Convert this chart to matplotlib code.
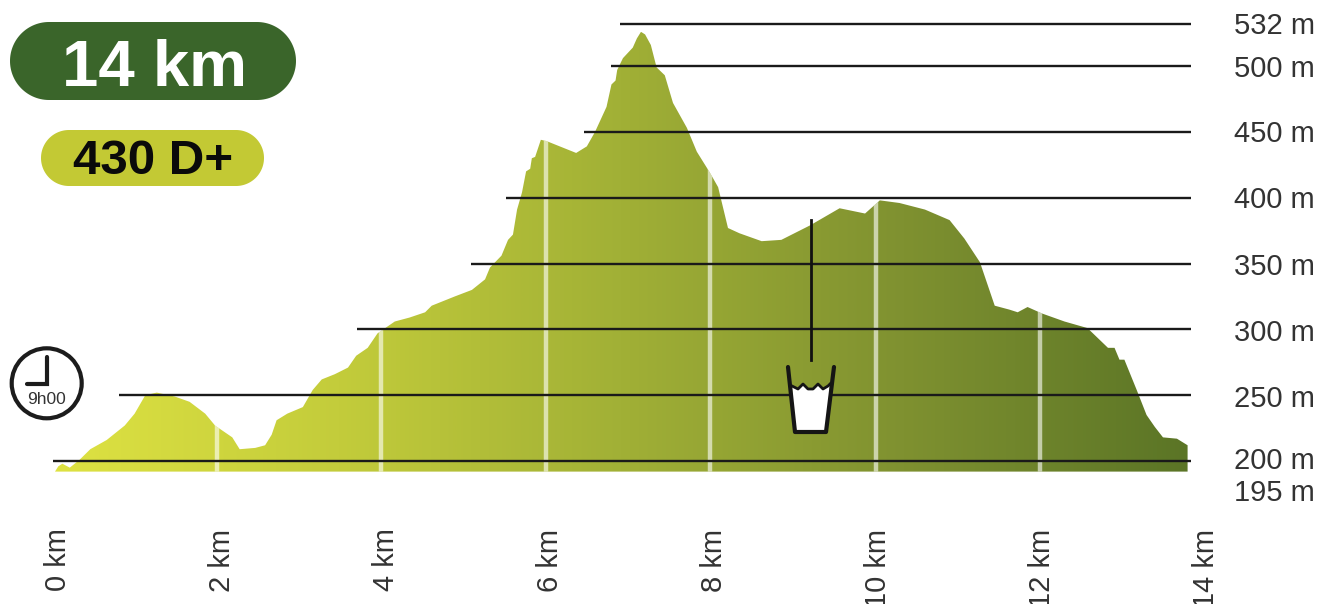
import numpy as np
import matplotlib
matplotlib.use("Agg")
import matplotlib.pyplot as plt
from matplotlib.colors import LinearSegmentedColormap
from matplotlib.patches import Circle, Polygon
from matplotlib.transforms import ScaledTranslation

plt.rcParams['font.family'] = ['Liberation Sans', 'DejaVu Sans']

# Profile
distance_km = [0, .04, .09, .18, .30, .43, .63, .85, .97, 1.10, 1.24, 1.46, 1.64, 1.83, 1.95,
               2.16, 2.25, 2.44, 2.56, 2.64, 2.70, 2.83, 3.02, 3.14, 3.25, 3.41, 3.57, 3.67,
               3.81, 3.93, 4.14, 4.32, 4.51, 4.59, 4.87, 5.08, 5.24, 5.30, 5.44, 5.52, 5.58,
               5.63, 5.69, 5.74, 5.79, 5.81, 5.85, 5.92, 5.99, 6.35, 6.48, 6.58, 6.72, 6.78,
               6.83, 6.85, 6.92, 7.04, 7.09, 7.14, 7.19, 7.26, 7.33, 7.43, 7.53, 7.70, 7.82,
               7.98, 8.08, 8.20, 8.34, 8.61, 8.85, 9.20, 9.56, 9.87, 10.05, 10.29, 10.60, 10.90,
               11.08, 11.27, 11.45, 11.63, 11.73, 11.85, 12.03, 12.30, 12.58, 12.83, 12.91,
               12.97, 13.03, 13.18, 13.30, 13.40, 13.50, 13.67, 13.80]
elevation_m = [192, 196, 198, 195, 201, 209, 216, 227, 236, 250, 252, 249, 245, 236, 227,
               218, 209, 210, 212, 220, 231, 236, 241, 254, 262, 266, 271, 280,
               286, 297, 306, 309, 313, 318, 325, 330, 338, 347, 356, 368, 372,
               391, 404, 420, 422, 430, 431, 444, 443, 434, 439, 450, 469, 486,
               489, 497, 506, 514, 521, 526, 524, 516, 499, 493, 472, 453, 435,
               419, 408, 377, 373, 367, 368, 379, 392, 388, 398, 396, 391, 383,
               369, 351, 318, 315, 313, 317, 312, 306, 301, 286, 286,
               277, 277, 254, 235, 226, 218, 217, 212]
base_m = 192

km_ticks = [0, 2, 4, 6, 8, 10, 12, 14]
km_labels = ['0 km', '2 km', '4 km', '6 km', '8 km', '10 km', '12 km', '14 km']
km_markers = [1.97, 3.97, 5.98, 7.98, 10, 12]

level_values = [532, 500, 450, 400, 350, 300, 250, 200]
level_starts = [6.89, 6.77, 6.45, 5.50, 5.07, 3.68, 0.78, -0.02]
level_end = 13.84

alt_labels = ['532 m', '500 m', '450 m', '400 m', '350 m', '300 m', '250 m', '200 m', '195 m']
alt_label_px = [26, 69, 134, 200, 267, 333, 399, 461, 493]

W, H = 1319, 604
fig = plt.figure(figsize=(W / 100, H / 100), dpi=100, facecolor='white')

# Axes: 0-14 km across px 55-1204; 192 m at px 471.6; 200 m at px 461, 1.3165 px per m
x0, x1, yb = 55, 1204, 471.6
ax = fig.add_axes([x0 / W, 1 - yb / H, (x1 - x0) / W, yb / H])
ax.patch.set_alpha(0)
top_m = 200 + 461 / 1.3165
for s in ax.spines.values():
    s.set_visible(False)

# Gradient area
poly = ax.fill_between(distance_km, elevation_m, base_m, facecolor='none', edgecolor='none')
cmap = LinearSegmentedColormap.from_list('g', ['#DEE242', '#C3CC3B', '#A1B036', '#7F9130', '#5B7526'])
im = ax.imshow(np.linspace(0, 1, 512).reshape(1, -1), cmap=cmap, aspect='auto',
               extent=(distance_km[0], distance_km[-1], base_m, max(elevation_m)), zorder=1)
clip_path = poly.get_paths()[0]
im.set_clip_path(clip_path, ax.transData)
ax.set_xlim(0, 14)
ax.set_ylim(base_m, top_m)

# Kilometre markers
vl = ax.vlines(km_markers, base_m, max(elevation_m), colors='white', alpha=0.6, lw=3.2, zorder=2)
vl.set_clip_path(clip_path, ax.transData)

# Altitude lines
ax.hlines(level_values, level_starts, level_end, colors='#1a1a1a', lw=1.7, zorder=3, clip_on=False)

# X ticks
ax.set_xticks(km_ticks)
ax.set_xticklabels(km_labels, rotation=90, va='top', ha='center', fontsize=21, color='#333333')
ax.tick_params(axis='x', length=0, pad=41)
ax.set_yticks([])
shift = ScaledTranslation(2.5 / 100, 0, fig.dpi_scale_trans)
for lab in ax.get_xticklabels():
    lab.set_transform(lab.get_transform() + shift)

# Altitude labels
over = fig.add_axes([0, 0, 1, 1], facecolor='none')
over.set_xlim(0, W)
over.set_ylim(H, 0)
over.axis('off')
for lab, py in zip(alt_labels, alt_label_px):
    over.text(1315, py, lab, ha='right', va='center', fontsize=21, color='#333333')


def pill(left, top, right, bottom, color):
    r = (bottom - top) / 2
    cy = (top + bottom) / 2
    a = np.linspace(-np.pi / 2, np.pi / 2, 60)
    xs = np.r_[right - r + r * np.cos(a), left + r - r * np.cos(a[::-1]) * 1]
    ys = np.r_[cy + r * np.sin(a), cy - r * np.sin(a)[::1] * -1 * -1]
    ys = np.r_[cy + r * np.sin(a), cy + r * np.sin(a[::-1])]
    over.add_patch(Polygon(np.c_[xs, ys], fc=color, ec='none'))


# Badges
pill(10, 22, 296, 100, '#3A652A')
over.text(155, 69, '14 km', ha='center', va='center', fontsize=47, fontweight='bold', color='white')
pill(41, 130, 264, 186, '#C3C934')
over.text(153.5, 161, '430 D+', ha='center', va='center', fontsize=35.5, fontweight='bold', color='#0a0a0a')

# Clock
over.add_patch(Circle((46.7, 383.3), 35, fc='white', ec='#1c1c1c', lw=3))
over.plot([47, 47, 27], [357, 384, 384], color='#1c1c1c', lw=3, solid_joinstyle='miter', solid_capstyle='round')
over.text(46.5, 399, '9h00', ha='center', va='center', fontsize=12.5, color='#333333')

# Water cup
over.plot([811, 811], [220, 360], color='#111111', lw=2)
water_x = [792, 798, 803, 808, 813, 818, 823, 828, 830]
water_y = [386, 389, 384, 389, 389, 384, 389, 386, 384]
over.add_patch(Polygon(list(zip(water_x, water_y)) + [(826, 432), (795, 432)], fc='white', ec='none', zorder=3))
over.plot([788, 795, 826, 834], [367, 432, 432, 367], color='#151515', lw=3, zorder=4,
          solid_joinstyle='round', solid_capstyle='round')
over.plot(water_x, water_y, color='#151515', lw=2, zorder=4)

fig.savefig('out.png', dpi=100)
